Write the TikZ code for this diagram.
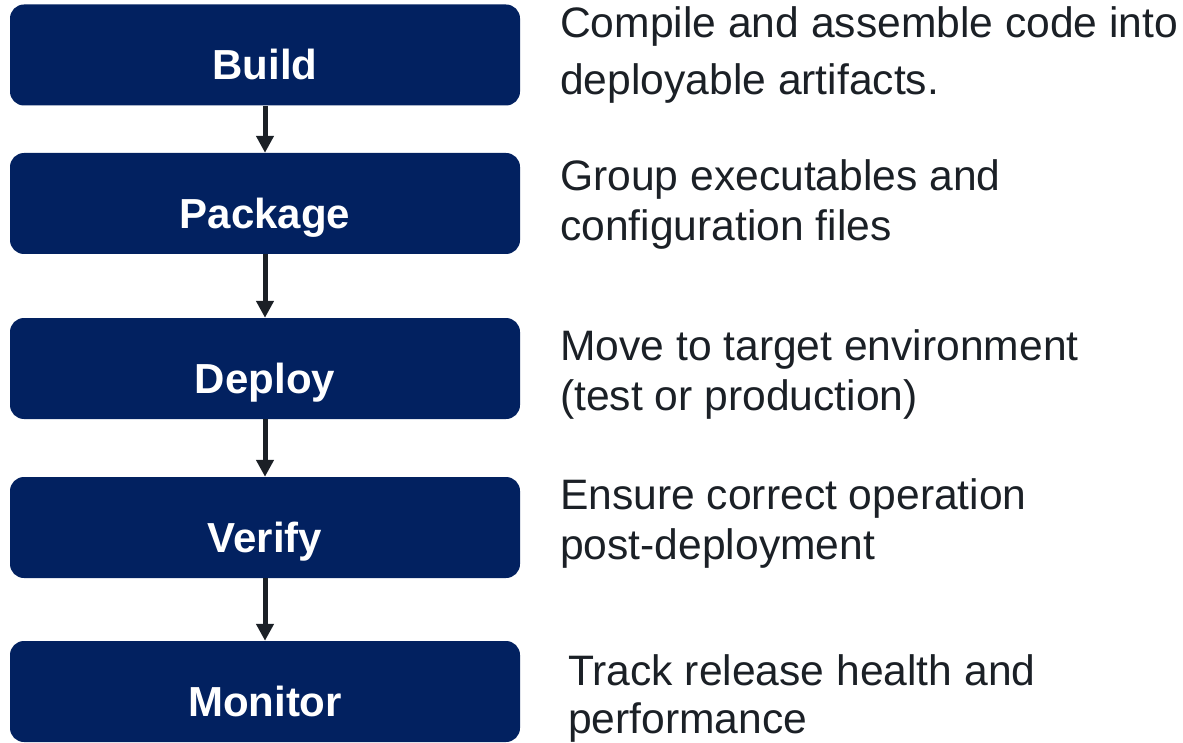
\documentclass[tikz,border=0pt]{standalone}
\usepackage{fontspec}
\setmainfont{Liberation Sans}
\usetikzlibrary{arrows.meta}
\definecolor{navy}{RGB}{2,33,96}
\definecolor{ink}{RGB}{27,32,38}
\tikzset{
  stepbox/.style={draw=none, fill=navy, rounded corners=14pt, minimum width=510pt, minimum height=101pt,
    inner sep=0pt, text=white, font=\fontsize{42}{48}\selectfont\bfseries, text height=50pt, text depth=0pt},
  flow/.style={draw=ink, line width=5pt, -{Triangle[width=17pt,length=17pt]}},
  desc/.style={anchor=base west, inner sep=0pt, align=left, text=ink}
}
\begin{document}
\begin{tikzpicture}[x=1pt,y=-1pt]
\useasboundingbox (0,0) rectangle (1183,743);
\node[stepbox] (build) at (265,55) {Build};
\node[stepbox] (package) at (265,203.5) {Package};
\node[stepbox] (deploy) at (265,368.5) {Deploy};
\node[stepbox] (verify) at (265,527.5) {Verify};
\node[stepbox] (monitor) at (265,691.5) {Monitor};
\draw[flow] (build.south) -- (package.north);
\draw[flow] (package.south) -- (deploy.north);
\draw[flow] (deploy.south) -- (verify.north);
\draw[flow] (verify.south) -- (monitor.north);
\node[desc, font=\fontsize{42.6}{57}\selectfont] (dbuild) at (560,95) {Compile and assemble code into\\deployable artifacts.};
\node[desc, font=\fontsize{42.6}{50}\selectfont] (dpackage) at (560,241) {Group executables and\\configuration files};
\node[desc, font=\fontsize{42.6}{50}\selectfont] (ddeploy) at (560,410) {Move to target environment\\(test or production)};
\node[desc, font=\fontsize{42.6}{50}\selectfont] (dverify) at (560,559) {Ensure correct operation\\post-deployment};
\node[desc, font=\fontsize{42.6}{48}\selectfont] (dmonitor) at (568,733) {Track release health and\\performance};
\end{tikzpicture}
\end{document}
